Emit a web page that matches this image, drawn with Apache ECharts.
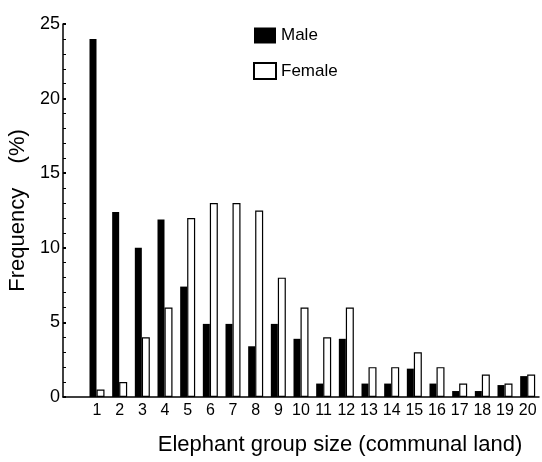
<!DOCTYPE html>
<html>
<head>
<meta charset="utf-8">
<script src="https://cdn.jsdelivr.net/npm/echarts@6/dist/echarts.min.js"></script>
<style>
  html, body { margin: 0; padding: 0; background: #fff; }
  #chart { width: 542px; height: 462px; }
</style>
</head>
<body>
<div id="chart"></div>
<script>
// group sizes (0 is an empty slot so the bars start away from the y axis)
const groupSizes = ['', '1', '2', '3', '4', '5', '6', '7', '8', '9', '10',
  '11', '12', '13', '14', '15', '16', '17', '18', '19', '20'];

// frequency (%)
const maleFreq = [null, 24, 12.4, 10, 11.9, 7.4, 4.9, 4.9, 3.4, 4.9, 3.9,
  0.9, 3.9, 0.9, 0.9, 1.9, 0.9, 0.4, 0.4, 0.8, 1.4];
const femaleFreq = [null, 0.5, 1, 4, 6, 12, 13, 13, 12.5, 8, 6,
  4, 6, 2, 2, 3, 2, 0.9, 1.5, 0.9, 1.5];

const yTicks = [0, 5, 10, 15, 20, 25];

const chart = echarts.init(document.getElementById('chart'));
const font = 'Liberation Sans, Arial, sans-serif';

chart.setOption({
  animation: false,
  textStyle: { fontFamily: font, color: '#000' },
  grid: { left: 63, right: 3, top: 24, bottom: 65, containLabel: false, outerBoundsMode: 'none' },
  legend: {
    orient: 'vertical',
    left: 253,
    top: 27,
    padding: 0,
    itemWidth: 22,
    itemHeight: 16,
    itemGap: 18,
    textStyle: { fontSize: 17, color: '#000', fontFamily: font },
    data: [
      { name: 'Male', icon: 'rect' },
      { name: 'Female', icon: 'rect' }
    ]
  },
  xAxis: {
    type: 'category',
    data: groupSizes,
    name: 'Elephant group size (communal land)',
    nameLocation: 'middle',
    nameGap: 37,
    nameTextStyle: { fontSize: 22, color: '#000', padding: [0, 0, 0, 78] },
    axisLine: { lineStyle: { color: '#000', width: 1.5 } },
    axisTick: {
      alignWithLabel: true,
      interval: (i) => i > 0,
      length: 3,
      lineStyle: { color: '#000', width: 4 }
    },
    axisLabel: { fontSize: 16, color: '#000', margin: 6, interval: 0 },
    splitLine: { show: false }
  },
  yAxis: {
    type: 'value',
    min: 0,
    max: 25,
    interval: 5,
    name: 'Frequency    (%)',
    nameLocation: 'middle',
    nameGap: 30,
    nameTextStyle: { fontSize: 22, color: '#000' },
    axisLine: { show: true, lineStyle: { color: '#000', width: 1.5 } },
    axisTick: { show: true, inside: true, length: 3, lineStyle: { color: '#000', width: 2 } },
    minorTick: { show: true, splitNumber: 5, length: 3, lineStyle: { color: '#000' } },
    axisLabel: {
      fontSize: 18,
      color: '#000',
      margin: 3,
      formatter: (v) => (yTicks.includes(v) ? String(v) : '')
    },
    splitLine: { show: false }
  },
  series: [
    {
      name: 'Male',
      type: 'bar',
      data: maleFreq,
      barWidth: 7,
      barGap: '0%',
      itemStyle: { color: '#000' }
    },
    {
      name: 'Female',
      type: 'bar',
      data: femaleFreq,
      barWidth: 8,
      itemStyle: { color: '#fff', borderColor: '#000', borderWidth: 1.2 }
    }
  ]
});
</script>
</body>
</html>
